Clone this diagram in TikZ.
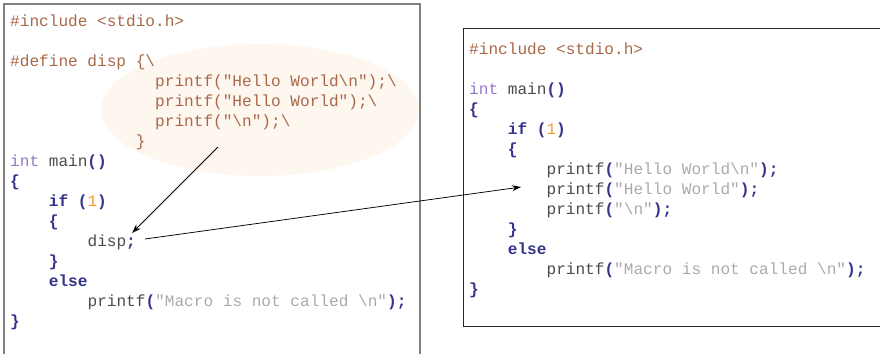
\documentclass[tikz,border=0pt]{standalone}
\usepackage{fontspec}
\setmonofont{Liberation Mono}
\usetikzlibrary{arrows.meta,shapes.geometric}
\definecolor{ppc}{RGB}{168,104,72}
\definecolor{kwc}{RGB}{52,52,140}
\definecolor{tyc}{RGB}{150,120,200}
\definecolor{stc}{RGB}{170,170,170}
\definecolor{numc}{RGB}{250,150,50}
\definecolor{txc}{RGB}{75,75,75}
\definecolor{elc}{RGB}{254,247,240}
\newcommand\cpp[1]{\textcolor{ppc}{#1}}
\newcommand\ckw[1]{\textcolor{kwc}{\bfseries #1}}
\newcommand\cty[1]{\textcolor{tyc}{#1}}
\newcommand\cst[1]{\textcolor{stc}{#1}}
\newcommand\cnm[1]{\textcolor{numc}{#1}}
\newcommand\bs{\textbackslash}
\tikzset{
  code/.style={anchor=base west, inner sep=0pt, text=txc,
    font=\fontsize{16.1}{20}\selectfont\ttfamily},
  conn/.style={draw=black, line width=0.75pt, -{Stealth[length=9pt,width=6pt]}},
}
\begin{document}
\begin{tikzpicture}[x=1pt,y=-1pt]
\useasboundingbox (0,0) rectangle (880,354);
% highlight ellipse
\node[ellipse, fill=elc, minimum width=318pt, minimum height=132pt, inner sep=0pt] (macro) at (260,110) {};
% boxes
\draw[draw=gray, line width=1.8pt] (4,354) -- (4,4) -- (420,4) -- (420,354);
\draw[draw=black!85, line width=0.9pt] (880,28) -- (463,28) -- (463,326) -- (880,326);
% left code
\node[code] (l0)  at (10,26)  {\cpp{\#include <stdio.h>}};
\node[code] (l2)  at (10,66)  {\cpp{\#define disp \{\bs}};
\node[code] (l3)  at (155,86) {\cpp{printf("Hello World\bs n");\bs}};
\node[code] (l4)  at (155,106) {\cpp{printf("Hello World");\bs}};
\node[code] (l5)  at (155,126) {\cpp{printf("\bs n");\bs}};
\node[code] (l6)  at (135.7,146) {\cpp{\}}};
\node[code] (l7)  at (10,166) {\cty{int} main\ckw{()}};
\node[code] (l8)  at (10,186) {\ckw{\{}};
\node[code] (l9)  at (48.7,206) {\ckw{if (}\cnm{1}\ckw{)}};
\node[code] (l10) at (48.7,226) {\ckw{\{}};
\node[code] (l11) at (87.4,246) {disp\ckw{;}};
\node[code] (l12) at (48.7,266) {\ckw{\}}};
\node[code] (l13) at (48.7,286) {\ckw{else}};
\node[code] (l14) at (87.4,306) {printf\ckw{(}\cst{"Macro is not called \bs n"}\ckw{);}};
\node[code] (l15) at (10,326) {\ckw{\}}};
% right code
\node[code] (r0)  at (469,54)  {\cpp{\#include <stdio.h>}};
\node[code] (r2)  at (469,94)  {\cty{int} main\ckw{()}};
\node[code] (r3)  at (469,114) {\ckw{\{}};
\node[code] (r4)  at (507.7,134) {\ckw{if (}\cnm{1}\ckw{)}};
\node[code] (r5)  at (507.7,154) {\ckw{\{}};
\node[code] (r6)  at (546.4,174) {printf\ckw{(}\cst{"Hello World\bs n"}\ckw{);}};
\node[code] (r7)  at (546.4,194) {printf\ckw{(}\cst{"Hello World"}\ckw{);}};
\node[code] (r8)  at (546.4,214) {printf\ckw{(}\cst{"\bs n"}\ckw{);}};
\node[code] (r9)  at (507.7,234) {\ckw{\}}};
\node[code] (r10) at (507.7,254) {\ckw{else}};
\node[code] (r11) at (546.4,274) {printf\ckw{(}\cst{"Macro is not called \bs n"}\ckw{);}};
\node[code] (r12) at (469,294) {\ckw{\}}};
% connectors
\coordinate (a1s) at (218,147);
\coordinate (a1e) at (132,233);
\coordinate (a2s) at (145,239);
\coordinate (a2e) at (521,187);
\draw[conn] (a1s) -- (a1e);
\draw[conn] (a2s) -- (a2e);
\end{tikzpicture}
\end{document}
